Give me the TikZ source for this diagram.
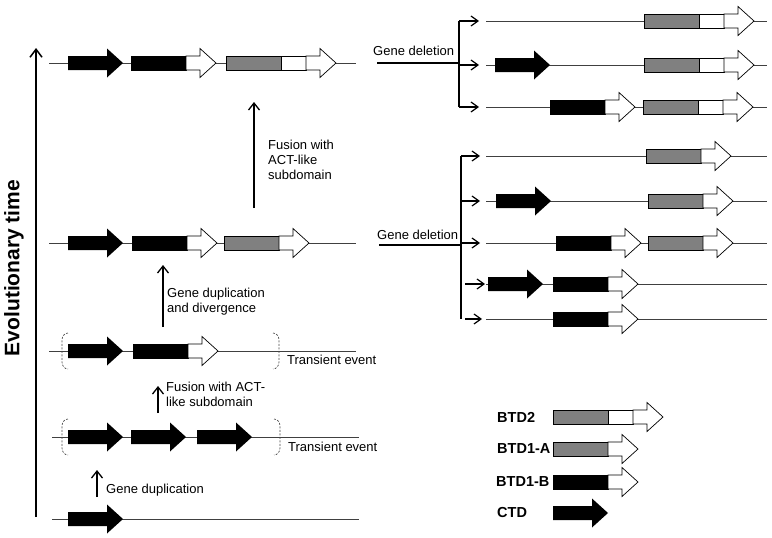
\documentclass[tikz,border=0pt]{standalone}
\usepackage{fontspec}
\setmainfont{Liberation Sans}
\usetikzlibrary{arrows.meta}
\definecolor{btdgray}{RGB}{128,128,128}
\tikzset{
  geneln/.style={draw=black!75,line width=0.9pt},
  geneout/.style={draw=black,line width=0.7pt},
  uparr/.style={line width=1.5pt,-{Straight Barb[length=7pt,width=11pt,line width=1.3pt]}},
  brarr/.style={line width=1.3pt,-{Straight Barb[length=7pt,width=10pt,line width=1.2pt]}},
  brln/.style={line width=1.3pt},
  axisln/.style={line width=2pt,-{Straight Barb[length=8pt,width=12pt,line width=1.5pt]}},
  lbl/.style={font=\fontsize{13}{15}\selectfont,inner sep=0pt,align=left,anchor=west},
  leglbl/.style={font=\bfseries\fontsize{14.5}{17}\selectfont,inner sep=0pt,anchor=west},
  brk/.style={draw=black!70,line width=0.7pt,dash pattern=on 2pt off 1.5pt},
}
\newcommand\geneline[3]{\draw[geneln] (#1,#3) -- (#2,#3);}
\newcommand\ctdarrow[2]{%
  \fill[black] (#1,#2-7) -- (#1+39,#2-7) -- (#1+39,#2-14.5) -- (#1+55,#2) -- (#1+39,#2+14.5) -- (#1+39,#2+7) -- (#1,#2+7) -- cycle;}
\newcommand\wharrow[3]{%
  \draw[geneout,fill=white] (#1,#3-7) -- (#2-16,#3-7) -- (#2-16,#3-14.5) -- (#2,#3) -- (#2-16,#3+14.5) -- (#2-16,#3+7) -- (#1,#3+7) -- cycle;}
\newcommand\btdb[2]{\draw[geneout,fill=black] (#1,#2-7) rectangle (#1+55,#2+7); \wharrow{#1+55}{#1+85}{#2}}
\newcommand\btda[2]{\draw[geneout,fill=btdgray] (#1,#2-7) rectangle (#1+55,#2+7); \wharrow{#1+55}{#1+85}{#2}}
\newcommand\btdtwo[2]{\draw[geneout,fill=btdgray] (#1,#2-7) rectangle (#1+55,#2+7); \draw[geneout,fill=white] (#1+55,#2-7) rectangle (#1+80,#2+7); \wharrow{#1+80}{#1+110}{#2}}
\newcommand\lbrk[2]{\draw[brk] (#1+6,#2-18) to[out=180,in=90] (#1,#2-11) -- (#1,#2+11) to[out=-90,in=180] (#1+6,#2+18);}
\newcommand\rbrk[2]{\draw[brk] (#1-6,#2-18) to[out=0,in=90] (#1,#2-11) -- (#1,#2+11) to[out=-90,in=0] (#1-6,#2+18);}
\begin{document}
\begin{tikzpicture}[x=1pt,y=-1pt]
\useasboundingbox (0,0) rectangle (772,538);
\fill[white] (0,0) rectangle (772,538);

% evolutionary axis
\coordinate (ax0) at (36,517);
\coordinate (ax1) at (36,48);
\draw[axisln] (ax0) -- (ax1);
\node[rotate=90,font=\bfseries\fontsize{21}{25}\selectfont,inner sep=0pt] (evo) at (14,268) {Evolutionary time};

% row 1
\geneline{49}{356}{63}
\ctdarrow{68}{63}
\btdb{131}{63}
\btdtwo{226}{63}

% row 2
\geneline{49}{356}{243}
\ctdarrow{68}{243}
\btdb{132}{243}
\btda{224}{243}

% row 3
\geneline{49}{356}{351}
\ctdarrow{68}{351}
\btdb{133}{351}
\lbrk{62}{351}
\rbrk{279}{351}
\node[lbl] (tr1) at (287,360) {Transient event};

% row 4
\geneline{52}{359}{437}
\ctdarrow{68}{437}
\ctdarrow{131}{437}
\ctdarrow{197}{437}
\lbrk{62}{437}
\rbrk{280}{437}
\node[lbl] (tr2) at (288,447) {Transient event};

% row 5
\geneline{52}{359}{519}
\ctdarrow{68}{519}

% up arrows and labels
\coordinate (a1s) at (254,208); \coordinate (a1e) at (254,102);
\draw[uparr] (a1s) -- (a1e);
\node[lbl] (fus1) at (268,160) {Fusion with\\ACT-like\\subdomain};

\coordinate (a2s) at (163,327); \coordinate (a2e) at (163,265);
\draw[uparr] (a2s) -- (a2e);
\node[lbl] (dup2) at (167,301.5) {Gene duplication\\and divergence};

\coordinate (a3s) at (158,413); \coordinate (a3e) at (158,386);
\draw[uparr] (a3s) -- (a3e);
\node[lbl] (fus2) at (166,394) {Fusion with ACT-\\like subdomain};

\coordinate (a4s) at (97,497); \coordinate (a4e) at (97,470);
\draw[uparr] (a4s) -- (a4e);
\node[lbl] (dup1) at (106,490) {Gene duplication};

% right top group
\node[lbl] (del1) at (373,51) {Gene deletion};
\coordinate (i1s) at (377,63); \coordinate (i1e) at (459,63);
\coordinate (v1t) at (459,21); \coordinate (v1b) at (459,107);
\draw[brln] (i1s) -- (i1e);
\draw[brln] (v1t) -- (v1b);
\coordinate (v1m) at (459,65);
\coordinate (b1a) at (479,21); \coordinate (b1b) at (479,65); \coordinate (b1c) at (479,107);
\draw[brarr] (v1t) -- (b1a);
\draw[brarr] (v1m) -- (b1b);
\draw[brarr] (v1b) -- (b1c);

\geneline{486}{767}{21}
\btdtwo{644}{21}
\geneline{486}{767}{65}
\ctdarrow{495}{65}
\btdtwo{644}{65}
\geneline{486}{767}{107}
\btdb{550}{107}
\btdtwo{643}{107}

% right bottom group
\node[lbl] (del2) at (377,235) {Gene deletion};
\coordinate (i2s) at (379,245); \coordinate (i2e) at (461,245);
\coordinate (v2t) at (461,156); \coordinate (v2b) at (461,319);
\draw[brln] (i2s) -- (i2e);
\draw[brln] (v2t) -- (v2b);
\coordinate (v2c) at (461,201); \coordinate (v2d) at (461,243);
\coordinate (v2e) at (465,284); \coordinate (v2f) at (465,319);
\coordinate (b2a) at (480,156); \coordinate (b2b) at (480,201); \coordinate (b2c) at (480,243);
\coordinate (b2d) at (485,284); \coordinate (b2e) at (482,319);
\draw[brarr] (v2t) -- (b2a);
\draw[brarr] (v2c) -- (b2b);
\draw[brarr] (v2d) -- (b2c);
\draw[brarr] (v2e) -- (b2d);
\draw[brarr] (v2f) -- (b2e);

\geneline{486}{767}{156}
\btda{646}{156}
\geneline{486}{767}{201}
\ctdarrow{496}{201}
\btda{648}{201}
\geneline{486}{767}{243}
\btdb{556}{243}
\btda{648}{243}
\geneline{486}{767}{284}
\ctdarrow{488}{284}
\btdb{553}{284}
\geneline{486}{767}{319}
\btdb{553}{319}

% legend
\node[leglbl] (lg1) at (497,417) {BTD2};
\btdtwo{553}{417}
\node[leglbl] (lg2) at (497,449) {BTD1-A};
\btda{553}{449}
\node[leglbl] (lg3) at (496,482) {BTD1-B};
\btdb{553}{482}
\node[leglbl] (lg4) at (497,513) {CTD};
\ctdarrow{553}{513}
\end{tikzpicture}
\end{document}
